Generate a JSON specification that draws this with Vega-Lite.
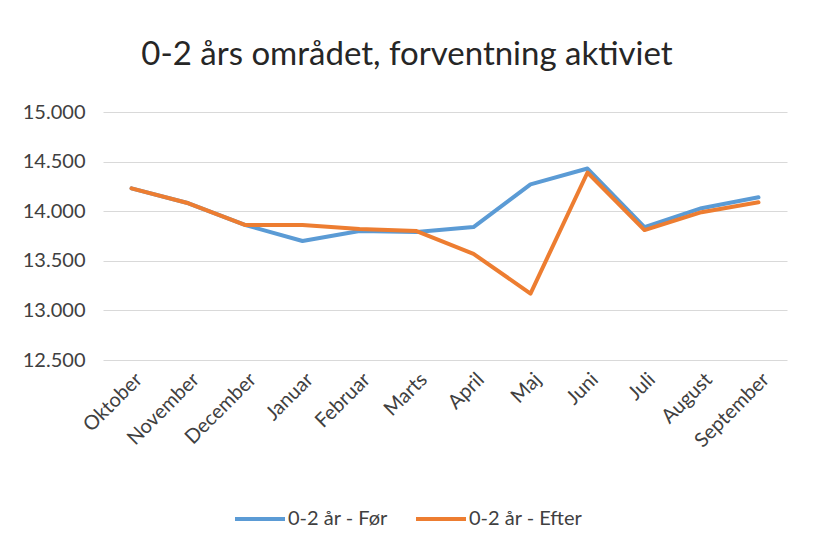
{
  "$schema": "https://vega.github.io/schema/vega-lite/v6.json",
  "width": 684,
  "height": 248,
  "autosize": {"type": "none"},
  "padding": {"left": 103, "top": 112, "right": 27, "bottom": 196},
  "background": "white",
  "title": {
    "text": "0-2 års området, forventning aktiviet",
    "fontSize": 33,
    "font": "Lato",
    "fontWeight": "normal",
    "color": "#262626",
    "anchor": "middle",
    "offset": 30,
    "dx": -38
  },
  "data": {
    "values": [
      {"maaned": "Oktober", "serie": "0-2 år - Før", "vaerdi": 14230},
      {"maaned": "November", "serie": "0-2 år - Før", "vaerdi": 14080},
      {"maaned": "December", "serie": "0-2 år - Før", "vaerdi": 13860},
      {"maaned": "Januar", "serie": "0-2 år - Før", "vaerdi": 13700},
      {"maaned": "Februar", "serie": "0-2 år - Før", "vaerdi": 13800},
      {"maaned": "Marts", "serie": "0-2 år - Før", "vaerdi": 13790},
      {"maaned": "April", "serie": "0-2 år - Før", "vaerdi": 13840},
      {"maaned": "Maj", "serie": "0-2 år - Før", "vaerdi": 14270},
      {"maaned": "Juni", "serie": "0-2 år - Før", "vaerdi": 14430},
      {"maaned": "Juli", "serie": "0-2 år - Før", "vaerdi": 13840},
      {"maaned": "August", "serie": "0-2 år - Før", "vaerdi": 14030},
      {"maaned": "September", "serie": "0-2 år - Før", "vaerdi": 14140},
      {"maaned": "Oktober", "serie": "0-2 år - Efter", "vaerdi": 14230},
      {"maaned": "November", "serie": "0-2 år - Efter", "vaerdi": 14080},
      {"maaned": "December", "serie": "0-2 år - Efter", "vaerdi": 13860},
      {"maaned": "Januar", "serie": "0-2 år - Efter", "vaerdi": 13860},
      {"maaned": "Februar", "serie": "0-2 år - Efter", "vaerdi": 13820},
      {"maaned": "Marts", "serie": "0-2 år - Efter", "vaerdi": 13800},
      {"maaned": "April", "serie": "0-2 år - Efter", "vaerdi": 13570},
      {"maaned": "Maj", "serie": "0-2 år - Efter", "vaerdi": 13170},
      {"maaned": "Juni", "serie": "0-2 år - Efter", "vaerdi": 14390},
      {"maaned": "Juli", "serie": "0-2 år - Efter", "vaerdi": 13810},
      {"maaned": "August", "serie": "0-2 år - Efter", "vaerdi": 13990},
      {"maaned": "September", "serie": "0-2 år - Efter", "vaerdi": 14090}
    ]
  },
  "mark": {"type": "line", "strokeWidth": 4, "strokeCap": "round", "strokeJoin": "round"},
  "encoding": {
    "x": {
      "field": "maaned",
      "type": "nominal",
      "sort": null,
      "title": null,
      "scale": {"type": "point", "padding": 0.5},
      "axis": {
        "labelAngle": -45,
        "labelAlign": "right",
        "labelBaseline": "top",
        "labelPadding": 9,
        "labelFontSize": 20,
        "labelFont": "Lato",
        "labelColor": "#404040",
        "ticks": false,
        "domain": false,
        "grid": false
      }
    },
    "y": {
      "field": "vaerdi",
      "type": "quantitative",
      "title": null,
      "scale": {"domain": [12500, 15000], "zero": false, "nice": false},
      "axis": {
        "values": [12500, 13000, 13500, 14000, 14500, 15000],
        "format": ",d",
        "labelFontSize": 20,
        "labelFont": "Lato",
        "labelColor": "#404040",
        "labelPadding": 18,
        "ticks": false,
        "domain": false,
        "grid": true,
        "gridColor": "#d9d9d9",
        "gridWidth": 1.2
      }
    },
    "color": {
      "field": "serie",
      "type": "nominal",
      "sort": ["0-2 år - Før", "0-2 år - Efter"],
      "scale": {"domain": ["0-2 år - Før", "0-2 år - Efter"], "range": ["#5b9bd5", "#ed7d31"]},
      "legend": {
        "title": null,
        "orient": "none",
        "direction": "horizontal",
        "legendX": 130,
        "legendY": 380,
        "symbolType": "stroke",
        "symbolSize": 2500,
        "symbolStrokeWidth": 4,
        "labelFontSize": 20,
        "labelFont": "Lato",
        "labelColor": "#404040",
        "columnPadding": 20,
        "labelOffset": 1
      }
    }
  },
  "config": {
    "locale": {
      "number": {"decimal": ",", "thousands": ".", "grouping": [3], "currency": ["", " kr"]}
    },
    "view": {"stroke": null}
  }
}
